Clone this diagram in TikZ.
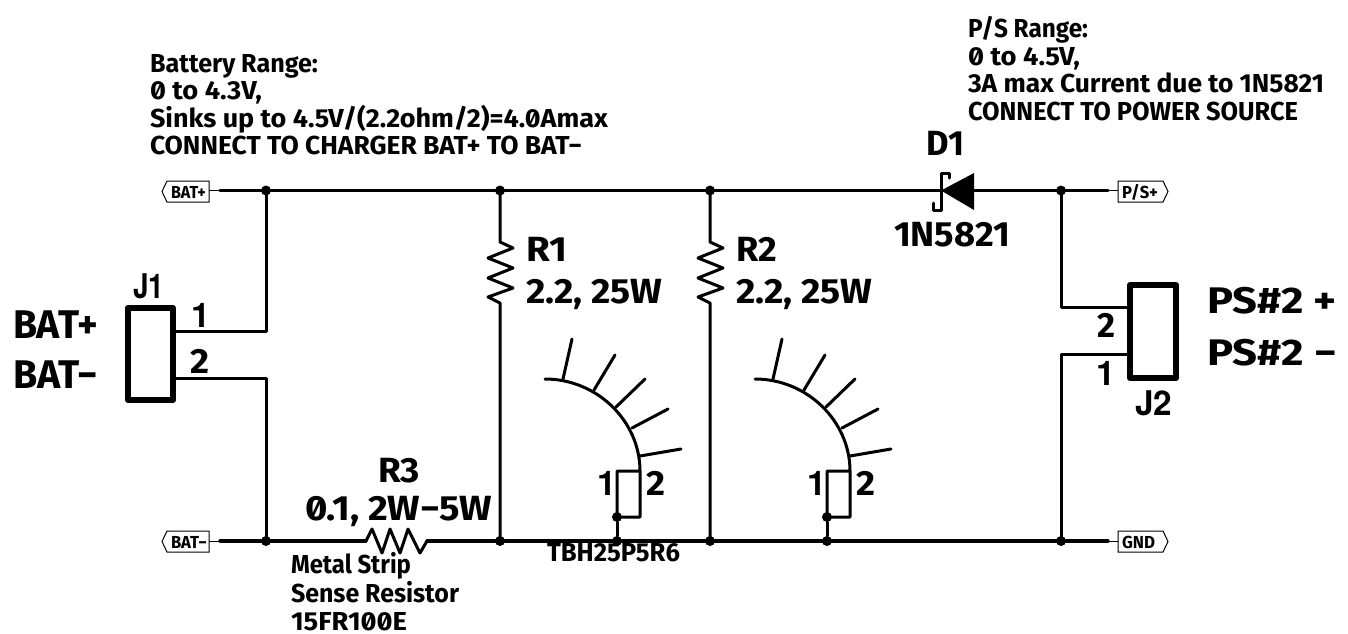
\documentclass[tikz,border=0pt]{standalone}
\usepackage{fontspec}
\usepackage{graphicx}
\setmainfont{Fira Sans}[RawFeature=+zero,UprightFont=* Bold,BoldFont=* Bold]
\newfontfamily\plainbold{TeX Gyre Heros}[UprightFont=* Bold]
\usetikzlibrary{calc}
\tikzset{
  x=1pt,y=-1pt,
  wire/.style={line width=3.2pt,black,line cap=round,line join=round},
  thin wire/.style={line width=1pt,black},
  conn/.style={line width=6pt,black,line join=round},
  part/.style={line width=3pt,black,line join=round,line cap=round},
  flagbox/.style={line width=1pt,black,fill=white},
  dot/.style={circle,fill=black,inner sep=0pt,minimum size=10pt},
  lab/.style={anchor=base west,inner sep=0pt,outer sep=0pt},
  fsmall/.style={font=\fontsize{26}{26}\selectfont},
  fmid/.style={font=\fontsize{35}{35}\selectfont},
  fbig/.style={font=\fontsize{40}{40}\selectfont},
  fflag/.style={font=\fontsize{17.4}{17.4}\selectfont},
  fplain/.style={font=\fontsize{34}{34}\plainbold},
}
\newcommand{\fw}[2]{\resizebox{#1pt}{\height}{#2}}
\newcommand{\thermo}[2]{%
  \begin{scope}[xshift=#2pt]
    \coordinate (#1a) at (545,379);
    \coordinate (#1b) at (640,471);
    \draw[part] (#1a) .. controls (597,379) and (640,421) .. (#1b) -- (640,517) -- (617,517) -- (617,471) -- (#1b);
    \draw[part] (563,379) -- (572,339);
    \draw[part] (594,390) -- (615,355);
    \draw[part] (616,407) -- (645,379);
    \draw[part] (632,428) -- (668,409);
    \draw[part] (640,456) -- (681,449);
    \node[lab,fplain] (#1n1) at (597,495) {1};
    \node[lab,fmid] (#1n2) at (646,495) {\fw{19}{2}};
    \node[dot] (#1top) at (617,517) {};
    \node[dot] (#1bot) at (617,541) {};
    \draw[part] (#1top) -- (#1bot);
  \end{scope}}
\begin{document}
\begin{tikzpicture}
\path[use as bounding box,fill=white] (0,0) rectangle (1348,633);
% flags
\draw[flagbox] (162,191.5) -- (167,181) -- (209,181) -- (209,202) -- (167,202) -- cycle;
\draw[flagbox] (162,541.5) -- (167,531) -- (209,531) -- (209,552) -- (167,552) -- cycle;
\draw[flagbox] (1168,191.5) -- (1163,181) -- (1118,181) -- (1118,202) -- (1163,202) -- cycle;
\draw[flagbox] (1168,541.5) -- (1163,531) -- (1118,531) -- (1118,552) -- (1163,552) -- cycle;
\node[lab,fflag] (fBP) at (171,198) {\fw{35}{BAT+}};
\node[lab,fflag] (fBM) at (171,548) {\fw{36}{BAT−}};
\node[lab,fflag] (fPS) at (1122,198) {\fw{36}{P/S+}};
\node[lab,fflag] (fGN) at (1122,548) {\fw{33}{GND}};
% ports
\coordinate (pBP) at (209,190.5);
\coordinate (pBPw) at (220,190.5);
\coordinate (pBM) at (209,541);
\coordinate (pBMw) at (220,541);
\coordinate (pPS) at (1118,190.5);
\coordinate (pPSw) at (1108,190.5);
\coordinate (pGN) at (1118,541);
\coordinate (pGNw) at (1108,541);
\draw[thin wire] (pBP) -- (pBPw);
\draw[thin wire] (pBM) -- (pBMw);
\draw[thin wire] (pPS) -- (pPSw);
\draw[thin wire] (pGN) -- (pGNw);
% junctions
\node[dot] (jA) at (266,190.5) {};
\node[dot] (jB) at (500,190.5) {};
\node[dot] (jC) at (710,190.5) {};
\node[dot] (jD) at (1061,190.5) {};
\node[dot] (jE) at (266,541) {};
\node[dot] (jF) at (500,541) {};
\node[dot] (jG) at (710,541) {};
\node[dot] (jH) at (1061,541) {};
% buses
\coordinate (dK) at (941,190.5);
\coordinate (dA) at (974,190.5);
\draw[wire] (pBPw) -- (jA.center) -- (jB.center) -- (jC.center) -- (dK);
\draw[wire] (dA) -- (jD.center) -- (pPSw);
\coordinate (r3a) at (366,541);
\coordinate (r3b) at (427,541);
\draw[wire] (pBMw) -- (jE.center) -- (r3a);
\draw[wire] (r3b) -- (jF.center) -- (jG.center) -- (jH.center) -- (pGNw);
% R3
\draw[part] (r3a) -- (372,529) -- (382,553) -- (390,529) -- (400,553) -- (408,529) -- (420,553) -- (r3b);
% R1, R2
\coordinate (r1a) at (500,242);
\coordinate (r1b) at (500,303);
\coordinate (r2a) at (710,242);
\coordinate (r2b) at (710,303);
\draw[part] (jB.center) -- (r1a) -- (513,248) -- (488,258) -- (513,268) -- (488,278) -- (513,288) -- (488,297) -- (r1b) -- (jF.center);
\draw[part] (jC.center) -- (r2a) -- (723,248) -- (698,258) -- (723,268) -- (698,278) -- (723,288) -- (698,297) -- (r2b) -- (jG.center);
% diode
\fill[black] (dK) -- (974,173) -- (974,210) -- cycle;
\draw[part] (949,178) -- (949,173) -- (941,173) -- (941,210) -- (933,210) -- (933,203);
% connectors
\coordinate (J1a) at (173,331);
\coordinate (J1b) at (173,378);
\draw[part] (J1a) -| (jA.center);
\draw[part] (J1b) -| (jE.center);
\draw[conn] (128,308) rectangle (173,400);
\coordinate (J2a) at (1130,307);
\coordinate (J2b) at (1130,354);
\draw[part] (J2a) -| (jD.center);
\draw[part] (J2b) -| (jH.center);
\draw[conn] (1130,285) rectangle (1176,378);
% thermo
\thermo{ta}{0}
\thermo{tb}{210}
% text
\node[lab,fsmall] (t1) at (150,72) {\fw{168}{Battery Range:}};
\node[lab,fsmall] (t2) at (150,99) {\fw{112}{0 to 4.3V,}};
\node[lab,fsmall] (t3) at (150,127) {\fw{458}{Sinks up to 4.5V/(2.2ohm/2)=4.0Amax}};
\node[lab,fsmall] (t4) at (150,154) {\fw{432}{CONNECT TO CHARGER BAT+ TO BAT−}};
\node[lab,fsmall] (p1) at (968,37) {\fw{120}{P/S Range:}};
\node[lab,fsmall] (p2) at (968,65) {\fw{112}{0 to 4.5V,}};
\node[lab,fsmall] (p3) at (968,92) {\fw{356}{3A max Current due to 1N5821}};
\node[lab,fsmall] (p4) at (968,120) {\fw{330}{CONNECT TO POWER SOURCE}};
\node[lab,fmid] (D1) at (926,155) {\fw{38}{D1}};
\node[lab,fmid] (D1v) at (894,246) {\fw{116}{1N5821}};
\node[lab,fmid] (R1) at (526,261) {\fw{41}{R1}};
\node[lab,fmid] (R1v) at (526,303) {\fw{136}{2.2, 25W}};
\node[lab,fmid] (R2) at (736,261) {\fw{41}{R2}};
\node[lab,fmid] (R2v) at (736,303) {\fw{136}{2.2, 25W}};
\node[lab,fmid] (R3) at (378,482) {\fw{42}{R3}};
\node[lab,fmid] (R3v) at (305,520) {\fw{187}{0.1, 2W−5W}};
\node[lab,fsmall] (m1) at (291,573) {\fw{120}{Metal Strip}};
\node[lab,fsmall] (m2) at (291,602) {\fw{168}{Sense Resistor}};
\node[lab,fsmall] (m3) at (291,630) {\fw{116}{15FR100E}};
\node[lab,fsmall] (tbh) at (547,561) {\fw{133}{TBH25P5R6}};
\node[lab,fplain] (J1) at (133,298) {\fw{31}{J1}};
\node[lab,fplain] (J1n1) at (191,327) {1};
\node[lab,fmid] (J1n2) at (190,373) {\fw{19}{2}};
\node[lab,fbig] (bp) at (13,338) {\fw{85}{BAT+}};
\node[lab,fbig] (bm) at (13,388) {\fw{85}{BAT−}};
\node[lab,fplain] (J2) at (1135,415) {\fw{37}{J2}};
\node[lab,fmid] (J2n2) at (1097,337) {\fw{18}{2}};
\node[lab,fplain] (J2n1) at (1096,385) {1};
\node[lab,font=\fontsize{37}{37}\selectfont] (ps1) at (1207,313) {\fw{130}{PS\#2 +}};
\node[lab,font=\fontsize{37}{37}\selectfont] (ps2) at (1207,365) {\fw{130}{PS\#2 −}};
\end{tikzpicture}
\end{document}
